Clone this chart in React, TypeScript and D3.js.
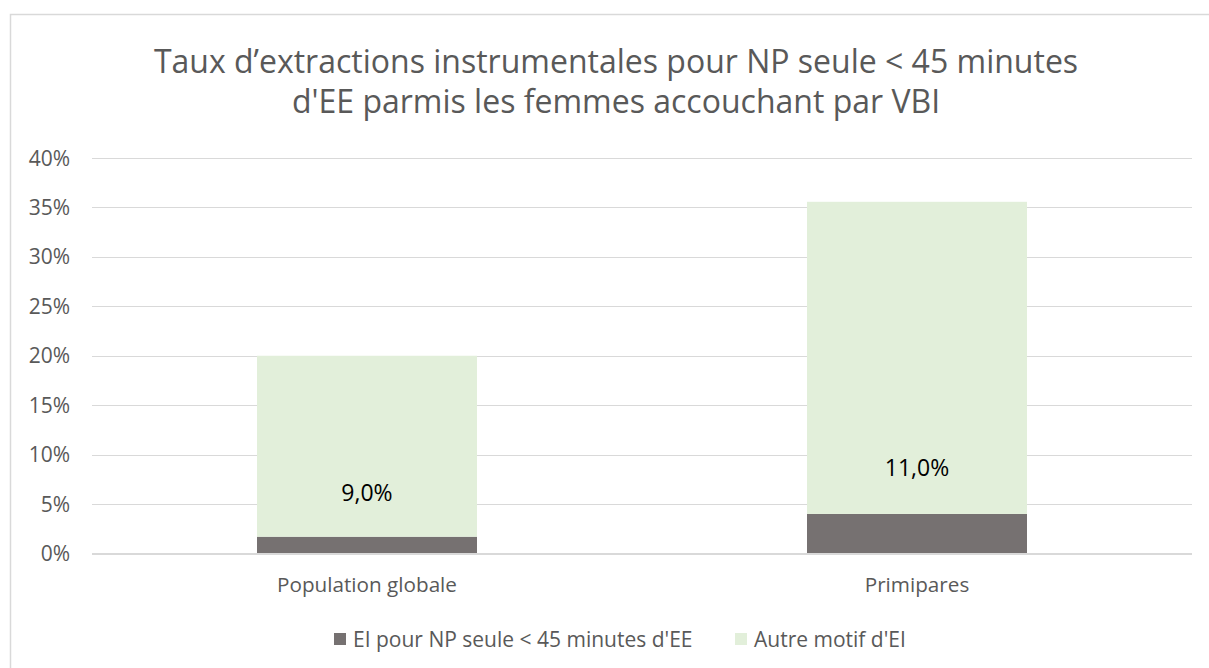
import React from "react";
import * as d3 from "d3";

const categories = ["Population globale", "Primipares"];
const seriesNames = ["EI pour NP seule < 45 minutes d'EE", "Autre motif d'EI"];
const npValues = [0.017, 0.04];
const otherValues = [0.183, 0.3157];
const labelTexts = ["9,0%", "11,0%"];
const labelPositions = [0.061, 0.0865];
const yTicks = [0, 0.05, 0.1, 0.15, 0.2, 0.25, 0.3, 0.35, 0.4];
const titleLines = [
  "Taux d’extractions instrumentales pour NP seule < 45 minutes",
  "d'EE parmis les femmes accouchant par VBI",
];

const W = 1209;
const H = 668;
const colors = ["#767171", "#E2EFDA"];
const FONT = "'Open Sans', 'Noto Sans', sans-serif";

export default function App() {
  const x = d3
    .scaleBand<string>()
    .domain(categories)
    .range([92, 1192])
    .paddingInner(0.6)
    .paddingOuter(0.3);
  const y = d3.scaleLinear().domain([0, 0.4]).range([553.5, 158]);

  const rows = categories.map((c, i) => ({ cat: c, np: npValues[i], other: otherValues[i] }));
  const stack = d3.stack<any>().keys(["np", "other"])(rows);
  const fmt = d3.format(".0%");

  return (
    <svg
      width={W}
      height={H}
      style={{ position: "absolute", left: 0, top: 0, background: "#fff" }}
      fontFamily={FONT}
    >
      <rect x={0} y={0} width={W} height={H} fill="#fff" />
      <rect x={10.5} y={14.5} width={W + 10} height={H + 10} fill="#fff" stroke="#d9d9d9" strokeWidth={1.5} />
      {titleLines.map((t, i) => (
        <text
          key={i}
          x={616}
          y={73 + i * 40}
          textAnchor="middle"
          fontSize={32}
          fill="#595959"
        >
          {t}
        </text>
      ))}
      {yTicks.map((t) => (
        <g key={t}>
          <line x1={92} x2={1192} y1={Math.round(y(t)) + 0.5} y2={Math.round(y(t)) + 0.5} stroke="#d9d9d9" strokeWidth={1} />
          <text x={70} y={y(t) + 7.5} textAnchor="end" fontSize={21} fill="#595959">
            {fmt(t)}
          </text>
        </g>
      ))}
      {stack.map((s, si) => (
        <g key={si} fill={colors[si]}>
          {s.map((d: any, i: number) => (
            <rect
              key={i}
              x={x(categories[i])!}
              width={x.bandwidth()}
              y={y(d[1])}
              height={y(d[0]) - y(d[1])}
            />
          ))}
        </g>
      ))}
      <line x1={92} x2={1192} y1={553.5} y2={553.5} stroke="#d9d9d9" strokeWidth={1} />
      {categories.map((c, i) => (
        <text
          key={c}
          x={x(c)! + x.bandwidth() / 2}
          y={y(labelPositions[i]) + 8}
          textAnchor="middle"
          fontSize={23}
          fill="#000"
        >
          {labelTexts[i]}
        </text>
      ))}
      {categories.map((c) => (
        <text
          key={c}
          x={x(c)! + x.bandwidth() / 2}
          y={592}
          textAnchor="middle"
          fontSize={20.7}
          fill="#595959"
        >
          {c}
        </text>
      ))}
      {seriesNames.map((n, i) => {
        const lx = [334, 735][i];
        return (
          <g key={n}>
            <rect x={lx} y={633} width={12} height={12} fill={colors[i]} />
            <text x={lx + 19} y={647} fontSize={21} fill="#595959">
              {n}
            </text>
          </g>
        );
      })}
    </svg>
  );
}
